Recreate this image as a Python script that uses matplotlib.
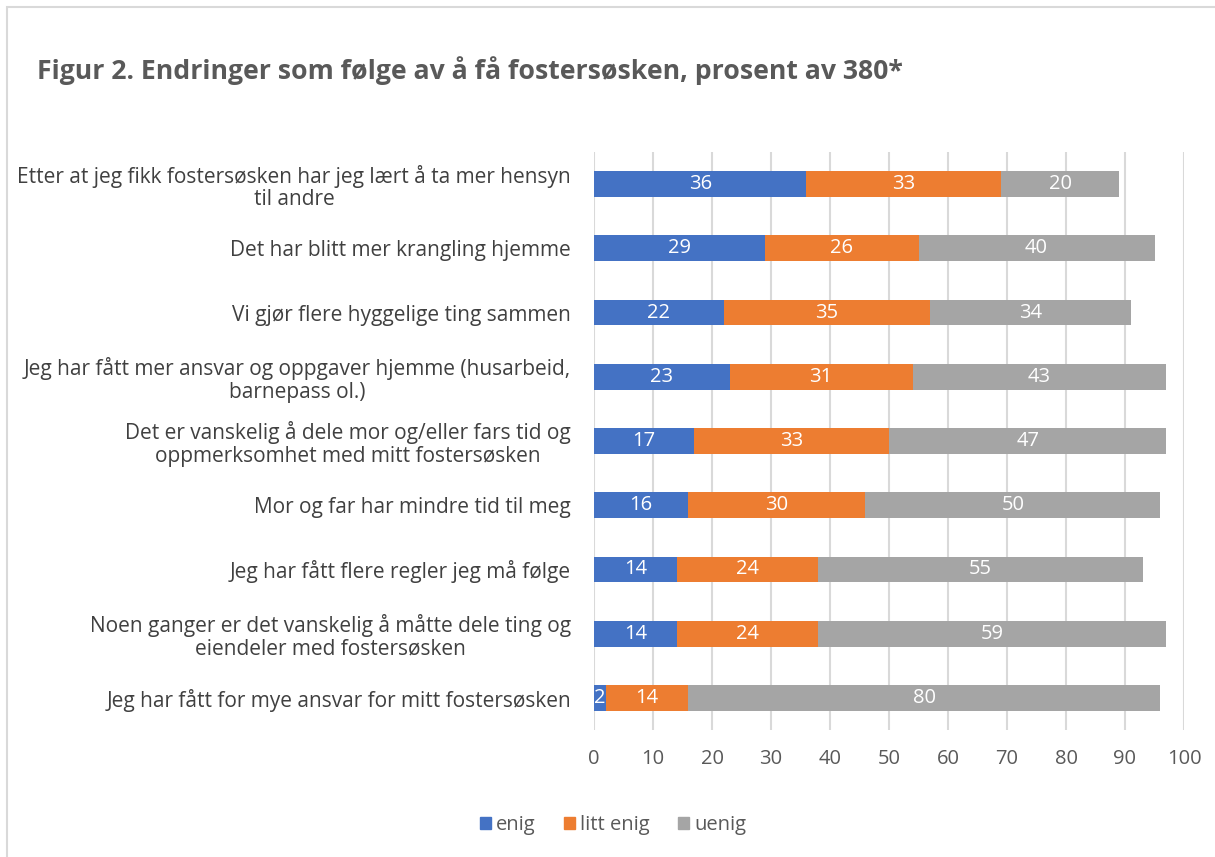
import matplotlib
matplotlib.use("Agg")
import matplotlib.pyplot as plt
from matplotlib.patches import Rectangle, Patch

categories = [
    "Etter at jeg fikk fostersøsken har jeg lært å ta mer hensyn\ntil andre",
    "Det har blitt mer krangling hjemme",
    "Vi gjør flere hyggelige ting sammen",
    "Jeg har fått mer ansvar og oppgaver hjemme (husarbeid,\nbarnepass ol.)",
    "Det er vanskelig å dele mor og/eller fars tid og\noppmerksomhet med mitt fostersøsken",
    "Mor og far har mindre tid til meg",
    "Jeg har fått flere regler jeg må følge",
    "Noen ganger er det vanskelig å måtte dele ting og\neiendeler med fostersøsken",
    "Jeg har fått for mye ansvar for mitt fostersøsken",
]
enig = [36, 29, 22, 23, 17, 16, 14, 14, 2]
litt_enig = [33, 26, 35, 31, 33, 30, 24, 24, 14]
uenig = [20, 40, 34, 43, 47, 50, 55, 59, 80]
series_names = ["enig", "litt enig", "uenig"]
colors = ["#4472C4", "#ED7D31", "#A5A5A5"]
xticks = [0, 10, 20, 30, 40, 50, 60, 70, 80, 90, 100]

plt.rcParams['font.family'] = ['Open Sans', 'DejaVu Sans']
W, H = 1215, 857
fig = plt.figure(figsize=(W / 100, H / 100), dpi=100)
fig.patches.append(Rectangle((7 / W, -0.1), 1.2, 1 - 7 / H + 0.1, transform=fig.transFigure,
                             fill=False, edgecolor="#d9d9d9", linewidth=1.5))

ax = fig.add_axes([594 / W, 1 - 730 / H, (1184 - 594) / W, (730 - 152) / H])
y = list(range(len(categories)))
left = [0] * len(categories)
for name, vals, c in zip(series_names, [enig, litt_enig, uenig], colors):
    bars = ax.barh(y, vals, left=left, height=0.4, color=c, label=name, zorder=3)
    for b, v, l in zip(bars, vals, left):
        ax.text(l + v / 2, b.get_y() + b.get_height() / 2, str(v), ha="center", va="center",
                color="white", fontsize=14.5, zorder=4)
    left = [a + b for a, b in zip(left, vals)]

ax.set_ylim(len(categories) - 0.5, -0.5)
ax.set_xlim(0, 100)
ax.set_xticks(xticks)
ax.set_yticks(y)
ax.set_yticklabels(categories, fontsize=15, color="#404040", linespacing=1.1)
ax.tick_params(axis="x", labelsize=14.5, labelcolor="#595959", length=0, pad=14)
ax.tick_params(axis="y", length=0, pad=16.5)
for lab in ax.get_yticklabels():
    lab.set_horizontalalignment("right")
    lab.set_multialignment("center")
ax.grid(axis="x", color="#d9d9d9", linewidth=1.5, zorder=0)
for s in ax.spines.values():
    s.set_visible(False)

fig.text(37 / W, 1 - 71 / H, "Figur 2. Endringer som følge av å få fostersøsken, prosent av 380*",
         fontsize=19.15, fontweight="bold", color="#595959", va="center", ha="left")

handles = [Patch(color=c, label=n) for n, c in zip(series_names, colors)]
fig.legend(handles=handles, loc="center", bbox_to_anchor=(613 / W, 1 - 825 / H), ncol=3,
           frameon=False, fontsize=14.5, labelcolor="#595959", handlelength=0.55, handleheight=0.55,
           handletextpad=0.25, columnspacing=1.4)

fig.savefig("out.png", dpi=100)
